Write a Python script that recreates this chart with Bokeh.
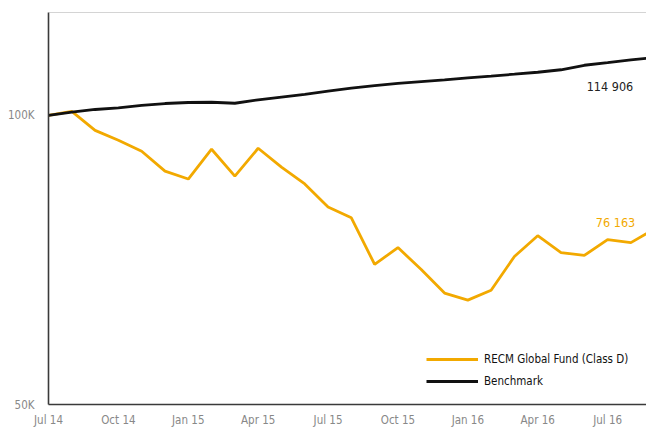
from bokeh.plotting import figure
from bokeh.models import (Range1d, FixedTicker, Legend, LegendItem, Label, Span,
                          ColumnDataSource)
from bokeh.embed import file_html
from bokeh.resources import INLINE

# ---- data ----
months = list(range(27))  # Jul 14 .. Sep 16, monthly
fund = [100000, 100960, 96490, 94220, 91780, 87510, 85860, 92220, 86470,
        92440, 88350, 84860, 80300, 78240, 69960, 72840, 69120, 65320,
        64220, 65750, 71310, 74950, 71980, 71480, 74260, 73720, 76163]
bench = [100000, 100790, 101440, 101850, 102460, 102900, 103150, 103220,
         102970, 103810, 104510, 105210, 106010, 106770, 107410, 107970,
         108440, 108880, 109430, 109910, 110400, 110910, 111580, 112790,
         113520, 114280, 114906]
x_ticks = [0, 3, 6, 9, 12, 15, 18, 21, 24]
x_tick_labels = ["Jul 14", "Oct 14", "Jan 15", "Apr 15", "Jul 15", "Oct 15",
                 "Jan 16", "Apr 16", "Jul 16"]
y_ticks = [50000, 100000]
y_tick_labels = ["50K", "100K"]
series_names = ["RECM Global Fund (Class D)", "Benchmark"]

FONT = "'DejaVu Sans Condensed', Roboto, sans-serif"
ORANGE = "#F2A900"
BLACK = "#111111"
Y_MIN, Y_MAX = 50000, 128000

p = figure(width=646, height=429, output_backend="svg", toolbar_location=None,
           y_axis_type="log", x_range=Range1d(0, 25.67),
           y_range=Range1d(Y_MIN, Y_MAX),
           min_border_left=48, min_border_right=0, min_border_top=12,
           min_border_bottom=22)
p.outline_line_color = None
p.xgrid.visible = False
p.ygrid.visible = False

src = ColumnDataSource(dict(m=months, fund=fund, bench=bench))
r_f = p.line("m", "fund", source=src, line_color=ORANGE, line_width=2.8)
r_b = p.line("m", "bench", source=src, line_color=BLACK, line_width=2.8)

# axes
for ax in (p.xaxis[0], p.yaxis[0]):
    ax.axis_line_color = "#3a3a3a"
    ax.axis_line_width = 1.6
    ax.major_tick_line_color = None
    ax.minor_tick_line_color = None
    ax.major_tick_out = 0
    ax.major_tick_in = 0
    ax.major_label_text_font = FONT
    ax.major_label_text_font_size = "11.5px"
    ax.major_label_text_color = "#888888"

p.xaxis.ticker = FixedTicker(ticks=x_ticks)
p.xaxis.major_label_overrides = {t: l for t, l in zip(x_ticks, x_tick_labels)}
p.xaxis.major_label_standoff = 8
p.yaxis.ticker = FixedTicker(ticks=y_ticks)
p.yaxis.major_label_overrides = {t: l for t, l in zip(y_ticks, y_tick_labels)}
p.yaxis.major_label_standoff = 14

# top border
p.add_layout(Span(location=Y_MAX, dimension="width", line_color="#aaaaaa",
                  line_width=1.2))

# end labels
p.add_layout(Label(x=months[-1], y=bench[-1], x_offset=-21, y_offset=-29,
                   text=f"{bench[-1]:,}".replace(",", " "), text_align="right",
                   text_baseline="middle", text_font=FONT,
                   text_font_size="12.5px", text_color="#222222"))
p.add_layout(Label(x=months[-1], y=fund[-1], x_offset=-19, y_offset=6,
                   text=f"{fund[-1]:,}".replace(",", " "), text_align="right",
                   text_baseline="middle", text_font=FONT,
                   text_font_size="12.5px", text_color=ORANGE))

legend = Legend(items=[LegendItem(label=series_names[0], renderers=[r_f]),
                       LegendItem(label=series_names[1], renderers=[r_b])],
                location=(378, 13), orientation="vertical",
                border_line_color=None, background_fill_alpha=0,
                padding=0, margin=0, spacing=2,
                glyph_width=52, glyph_height=20, label_height=20,
                label_standoff=6, label_text_font=FONT,
                label_text_font_size="11.5px", label_text_color="#111111")
p.add_layout(legend)

open("out.html", "w").write(file_html(p, INLINE))
